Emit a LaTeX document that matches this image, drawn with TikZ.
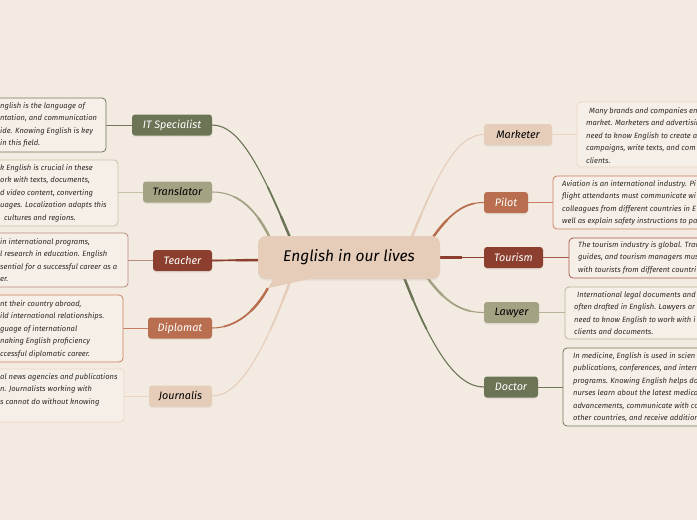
\documentclass[tikz,border=0pt]{standalone}
\usepackage{fontspec}
\setmainfont{Fira Sans}
\usetikzlibrary{calc,shadows}
\definecolor{bgc}{HTML}{F3EBE2}
\definecolor{boxfill}{HTML}{F6EFE8}
\definecolor{dgreen}{HTML}{6B7556}
\definecolor{olive}{HTML}{A3A283}
\definecolor{rbrown}{HTML}{8C3F2F}
\definecolor{terra}{HTML}{B96F4F}
\definecolor{tan}{HTML}{E6CDBA}
\definecolor{txt}{HTML}{2E2A26}
\definecolor{bdgreen}{HTML}{6F7858}
\definecolor{bolive}{HTML}{C4C2A8}
\definecolor{brbrown}{HTML}{B98A7E}
\definecolor{bterra}{HTML}{C98062}
\definecolor{btan}{HTML}{EBD6C6}
\definecolor{brbrown2}{HTML}{A6584A}
\definecolor{bolive2}{HTML}{B5B497}
\pgfdeclarelayer{back}
\pgfdeclarelayer{bg}
\pgfsetlayers{back,bg,main}
\tikzset{
  branch/.style={rounded corners=3pt, minimum height=21pt, inner sep=0pt,
    font=\fontsize{10.8}{12}\selectfont\itshape,
    drop shadow={opacity=0.12, shadow xshift=0pt, shadow yshift=-1.5pt}},
  descbox/.style={rounded corners=4pt, fill=boxfill, line width=0.8pt, inner sep=0pt},
  desctext/.style={inner sep=0pt, text=txt, font=\fontsize{7.6}{8}\selectfont\itshape},
  link/.style={line width=0.8pt},
}
\newcommand\mydescbox[6]{%
  \node[descbox, draw=#6, minimum width={(#4-#2)*1pt}, minimum height={(#5-#3)*1pt}] (#1) at ({(#2+#4)/2},{(#3+#5)/2}) {};}
\newcommand\mylines[4]{%
  \foreach \t [count=\i] in {#4} {
    \node[desctext, anchor=base west] (#3-\i) at (#1, {#2+(\i-1)*12.4}) {\t};
  }}
\newcommand\myconn[2]{%
  \draw[line width=1.1pt,#1] #2;
  \draw[line width=1.7pt,#1,dash pattern=on 60pt off 3000pt] #2;
  \draw[line width=2.4pt,#1,dash pattern=on 28pt off 3000pt] #2;}
\begin{document}
\begin{tikzpicture}[x=1pt, y=-1pt]
\begin{pgfonlayer}{back}
\fill[bgc] (0,0) rectangle (697,520);
\end{pgfonlayer}
\useasboundingbox (0,0) rectangle (697,520);

% central node
\node[rounded corners=8pt, fill=tan, minimum width=182pt, minimum height=43pt, inner sep=0pt,
  font=\fontsize{15.5}{17}\selectfont\itshape, text=black,
  drop shadow={opacity=0.12, shadow xshift=0pt, shadow yshift=-1.5pt}] (center) at (349,257.5) {English in our lives};
\coordinate (tailtip) at ($(center.south west)+(10,9)$);
\fill[tan] ($(center.south west)+(16,-1)$) -- (tailtip) -- ($(center.south west)+(55,-1)$) -- cycle;

% branch nodes
\node[branch, fill=dgreen, text=white, minimum width=80pt] (it) at (172,125) {IT Specialist};
\node[branch, fill=olive, text=black, minimum width=69pt] (tr) at (177.5,192) {Translator};
\node[branch, fill=rbrown, text=white, minimum width=59pt] (te) at (182.5,260.5) {Teacher};
\node[branch, fill=terra, text=white, minimum width=64pt] (di) at (180,328) {Diplomat};
\node[branch, fill=tan, text=black, minimum width=63pt] (jo) at (180.5,396) {Journalis};
\node[branch, fill=tan, text=black, minimum width=68pt] (ma) at (518,134.5) {Marketer};
\node[branch, fill=terra, text=white, minimum width=44pt] (pi) at (506,202.5) {Pilot};
\node[branch, fill=rbrown, text=white, minimum width=59pt] (to) at (513.5,257.5) {Tourism};
\node[branch, fill=olive, text=black, minimum width=55pt] (la) at (511.5,312.5) {Lawyer};
\node[branch, fill=dgreen, text=white, minimum width=54pt] (do) at (511,387) {Doctor};

% description boxes
\mydescbox{itd}{-60}{98}{106}{152}{bdgreen}
\mydescbox{trd}{-60}{160}{118}{226}{bolive}
\mydescbox{ted}{-60}{233}{128}{287}{brbrown}
\mydescbox{did}{-60}{295}{123}{362}{bterra}
\mydescbox{jod}{-60}{369}{124}{422}{btan}
\mydescbox{mad}{577}{102}{760}{167}{btan}
\mydescbox{pid}{553}{176}{760}{229}{bterra}
\mydescbox{tod}{569}{238}{760}{278}{brbrown2}
\mydescbox{lad}{565}{287}{760}{339}{bolive2}
\mydescbox{dod}{563}{348}{760}{426}{bdgreen}

% description texts
\mylines{0}{108.5}{itt}{{nglish is the language of},{ntation, and communication},{ide. Knowing English is key},{in this field.}}
\mylines{0}{170.5}{trt}{{k English is crucial in these},{ork with texts, documents,},{d video content, converting},{uages. Localization adapts this},{\hspace*{4pt}cultures and regions.}}
\mylines{0}{244.5}{tet}{{in international programs,},{l research in education. English},{sential for a successful career as a},{er.}}
\mylines{0}{306.5}{dit}{{nt their country abroad,},{ild international relationships.},{guage of international},{naking English proficiency},{ccessful diplomatic career.}}
\mylines{0}{379.5}{jot}{{al news agencies and publications},{n. Journalists working with},{s cannot do without knowing}}
\mylines{586}{113.5}{mat}{{\hspace*{3pt}Many brands and companies en},{market. Marketers and advertisin},{need to know English to create a},{campaigns, write texts, and com},{clients.}}
\mylines{562}{186.5}{pit}{{Aviation is an international industry. Pi},{flight attendants must communicate wi},{colleagues from different countries in E},{well as explain safety instructions to pa}}
\mylines{578}{247.5}{tot}{{The tourism industry is global. Trav},{guides, and tourism managers mus},{with tourists from different countri}}
\mylines{574}{297.5}{lat}{{\hspace*{3pt}International legal documents and a},{often drafted in English. Lawyers ar},{need to know English to work with i},{clients and documents.}}
\mylines{573}{358.5}{dot}{{In medicine, English is used in scien},{publications, conferences, and intern},{programs. Knowing English helps doc},{nurses learn about the latest medica},{advancements, communicate with co},{other countries, and receive additiona}}

% connectors
\coordinate (c-it) at ($(center.north west)+(34,6)$);
\coordinate (c-tr) at ($(center.north west)+(14,6)$);
\coordinate (c-te) at ($(center.west)+(6,2.5)$);
\coordinate (c-jo) at ($(center.south west)+(35,-5)$);
\coordinate (c-ma) at ($(center.north west)+(152,6)$);
\coordinate (c-pi) at ($(center.north west)+(172,6)$);
\coordinate (c-to) at ($(center.east)+(-6,0)$);
\coordinate (c-la) at ($(center.south west)+(167,-5)$);
\coordinate (c-do) at ($(center.south west)+(145,-5)$);
\begin{pgfonlayer}{bg}
\myconn{dgreen}{(c-it) .. controls (262,170) and (240,125) .. (it.east)}
\myconn{olive}{(c-tr) .. controls (255,205) and (235,192) .. (tr.east)}
\myconn{rbrown}{(c-te) -- (te.east)}
\myconn{terra}{(tailtip) .. controls (255,312) and (235,328) .. (di.east)}
\myconn{tan}{(c-jo) .. controls (265,350) and (240,396) .. (jo.east)}
\myconn{tan}{(c-ma) .. controls (435,180) and (455,134.5) .. (ma.west)}
\myconn{terra}{(c-pi) .. controls (450,212) and (465,202.5) .. (pi.west)}
\myconn{rbrown}{(c-to) -- (to.west)}
\myconn{olive}{(c-la) .. controls (445,303) and (462,312.5) .. (la.west)}
\myconn{dgreen}{(c-do) .. controls (430,345) and (455,387) .. (do.west)}
% links to descriptions
\draw[link, bdgreen] (it.west) -- (it.west -| itd.east);
\draw[link, bolive] (tr.west) -- (tr.west -| trd.east);
\draw[link, brbrown] (te.west) -- (te.west -| ted.east);
\draw[link, bterra] (di.west) -- (di.west -| did.east);
\draw[link, btan] (jo.west) -- (jo.west -| jod.east);
\draw[link, btan] (ma.east) -- (ma.east -| mad.west);
\draw[link, bterra] (pi.east) -- (pi.east -| pid.west);
\draw[link, brbrown2] (to.east) -- (to.east -| tod.west);
\draw[link, bolive2] (la.east) -- (la.east -| lad.west);
\draw[link, bdgreen] (do.east) -- (do.east -| dod.west);
\end{pgfonlayer}
\end{tikzpicture}
\end{document}
